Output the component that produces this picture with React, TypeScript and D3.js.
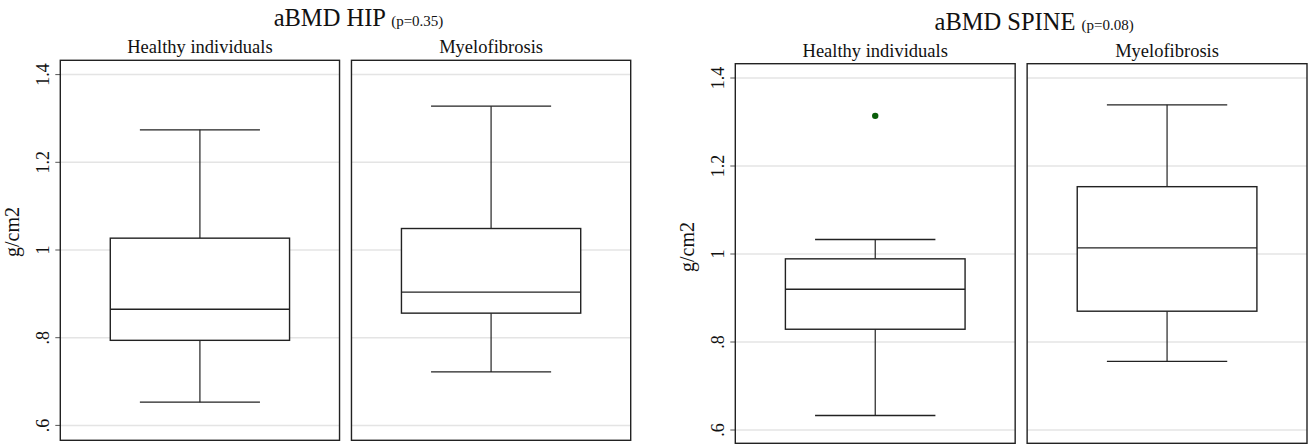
import * as d3 from "d3";
import { useEffect, useRef } from "react";

// five-number summaries: lower whisker, Q1, median, Q3, upper whisker (g/cm2)
const groups = ["Healthy individuals", "Myelofibrosis"];
const hipHealthy = [0.653, 0.794, 0.865, 1.027, 1.274];
const hipMyelo = [0.722, 0.856, 0.904, 1.049, 1.328];
const spineHealthy = [0.633, 0.829, 0.92, 0.989, 1.033];
const spineMyelo = [0.756, 0.87, 1.014, 1.153, 1.339];
const spineHealthyOutliers = [1.314];
const yTicks = [0.6, 0.8, 1, 1.2, 1.4];
const tickLabels = [".6", ".8", "1", "1.2", "1.4"];

const FONT = "'Liberation Serif', 'Times New Roman', serif";

function drawChart(svg, cfg) {
	const { left, right, top, bottom, y6, y14, title, pval, stats, outliers, yLabelY } = cfg;

	const x = d3.scaleBand().domain(groups).range([left, right]).paddingInner(0.041).paddingOuter(0);
	const y = d3.scaleLinear().domain([0.6, 1.4]).range([y6, y14]);
	const g = svg.append("g");

	// main title
	const t = g
		.append("text")
		.attr("x", (left + right) / 2 + 13)
		.attr("y", top - 34)
		.attr("text-anchor", "middle")
		.attr("font-family", FONT)
		.attr("font-size", 24.5)
		.attr("fill", "#111");
	t.append("tspan").text(title + " ");
	t.append("tspan").attr("font-size", 15).text(pval);

	// y axis label
	g.append("text")
		.attr("transform", "translate(" + (left - 41) + "," + yLabelY + ") rotate(-90)")
		.attr("text-anchor", "middle")
		.attr("font-family", FONT)
		.attr("font-size", 20)
		.attr("fill", "#111")
		.text("g/cm2");

	// ticks + labels
	yTicks.forEach((v, i) => {
		g.append("line")
			.attr("x1", left - 5)
			.attr("x2", left)
			.attr("y1", y(v))
			.attr("y2", y(v))
			.attr("stroke", "#555")
			.attr("stroke-width", 1);
		g.append("text")
			.attr("transform", "translate(" + (left - 11) + "," + y(v) + ") rotate(-90)")
			.attr("text-anchor", "middle")
			.attr("font-family", FONT)
			.attr("font-size", 18)
			.attr("fill", "#111")
			.text(tickLabels[i]);
	});

	const bw = x.bandwidth();
	groups.forEach((grp, i) => {
		const px = x(grp);
		const cx = px + bw / 2;
		const s = stats[i];

		g.append("text")
			.attr("x", cx)
			.attr("y", top - 7)
			.attr("text-anchor", "middle")
			.attr("font-family", FONT)
			.attr("font-size", 18.5)
			.attr("fill", "#111")
			.text(grp);

		// gridlines
		yTicks.forEach((v) => {
			g.append("line")
				.attr("x1", px)
				.attr("x2", px + bw)
				.attr("y1", y(v))
				.attr("y2", y(v))
				.attr("stroke", "#e4e4e4")
				.attr("stroke-width", 1.5);
		});

		const boxW = bw * 0.642;
		const capW = bw * 0.43;

		// whiskers
		g.append("line")
			.attr("x1", cx).attr("x2", cx)
			.attr("y1", y(s[0])).attr("y2", y(s[1]))
			.attr("stroke", "#222").attr("stroke-width", 1.2);
		g.append("line")
			.attr("x1", cx).attr("x2", cx)
			.attr("y1", y(s[3])).attr("y2", y(s[4]))
			.attr("stroke", "#222").attr("stroke-width", 1.2);
		[s[0], s[4]].forEach((v) => {
			g.append("line")
				.attr("x1", cx - capW / 2).attr("x2", cx + capW / 2)
				.attr("y1", y(v)).attr("y2", y(v))
				.attr("stroke", "#222").attr("stroke-width", 1.4);
		});

		// box
		g.append("rect")
			.attr("x", cx - boxW / 2)
			.attr("y", y(s[3]))
			.attr("width", boxW)
			.attr("height", y(s[1]) - y(s[3]))
			.attr("fill", "#fff")
			.attr("stroke", "#222")
			.attr("stroke-width", 1.4);
		g.append("line")
			.attr("x1", cx - boxW / 2).attr("x2", cx + boxW / 2)
			.attr("y1", y(s[2])).attr("y2", y(s[2]))
			.attr("stroke", "#222").attr("stroke-width", 1.4);

		(outliers[i] || []).forEach((v) => {
			g.append("circle")
				.attr("cx", cx)
				.attr("cy", y(v))
				.attr("r", 3.2)
				.attr("fill", "#0a5e0a");
		});

		// panel border
		g.append("rect")
			.attr("x", px)
			.attr("y", top)
			.attr("width", bw)
			.attr("height", bottom - top)
			.attr("fill", "none")
			.attr("stroke", "#222")
			.attr("stroke-width", 1.4);
	});
}

export default function App() {
	const ref = useRef(null);

	useEffect(() => {
		const svg = d3.select(ref.current);
		svg.selectAll("*").remove();

		drawChart(svg, {
			left: 60.3, right: 339.7 + 291.0, top: 60.3, bottom: 440.3,
			y6: 425.4, y14: 74.6,
			title: "aBMD HIP", pval: "(p=0.35)",
			stats: [hipHealthy, hipMyelo], outliers: [[], []],
			yLabelY: 232,
		});
		drawChart(svg, {
			left: 735.3, right: 1307, top: 63.7, bottom: 443.3,
			y6: 430, y14: 78,
			title: "aBMD SPINE", pval: "(p=0.08)",
			stats: [spineHealthy, spineMyelo], outliers: [spineHealthyOutliers, []],
			yLabelY: 247,
		});
	}, []);

	return (
		<svg
			ref={ref}
			width={1308}
			height={444}
			style={{ position: "absolute", left: 0, top: 0, background: "#fff" }}
		/>
	);
}
